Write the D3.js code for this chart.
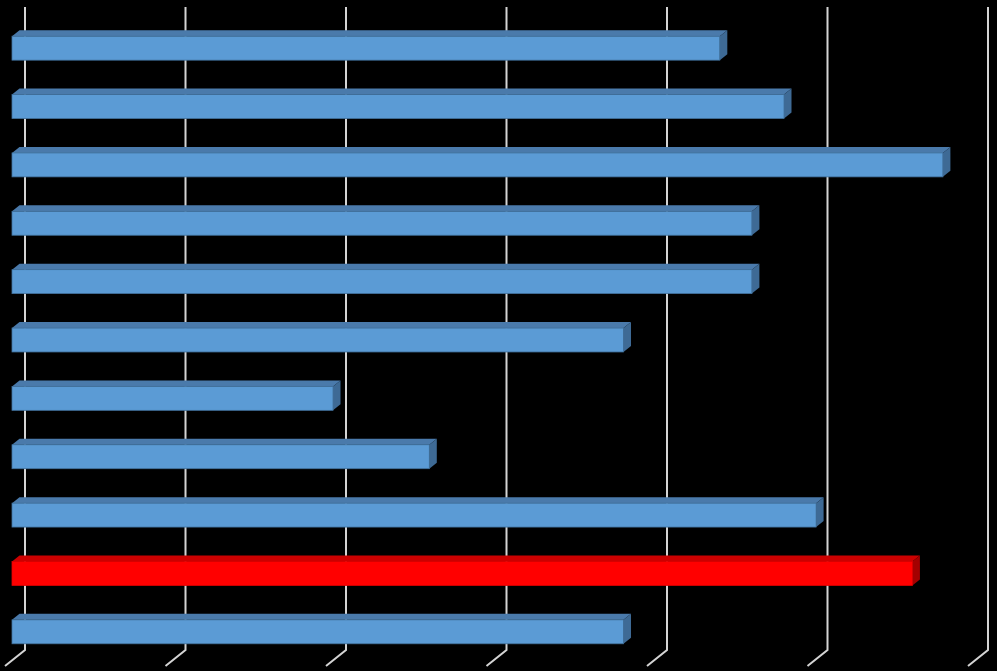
<!DOCTYPE html>
<html>
<head>
<meta charset="utf-8">
<script src="https://cdn.jsdelivr.net/npm/d3@7"></script>
<style>
  html, body { margin: 0; padding: 0; background: #000; }
  svg { display: block; }
</style>
</head>
<body>
<svg id="chart" width="997" height="671"></svg>
<script>
// Data (no labels are shown in the original)
const categories = ["C1","C2","C3","C4","C5","C6","C7","C8","C9","C10","C11"];
const values = [4.41, 4.81, 5.80, 4.61, 4.61, 3.81, 2.00, 2.60, 5.01, 5.61, 3.81];
const highlight = ["C10"];
const gridTicks = [0, 1, 2, 3, 4, 5, 6];

const svg = d3.select("#chart");
const W = 997, H = 671;
svg.append("rect").attr("width", W).attr("height", H).attr("fill", "#000");

// front-plane x scale for bars
const x = d3.scaleLinear().domain([0, 6]).range([12, 975]);
const y = d3.scaleBand().domain(categories).range([19, 661])
  .paddingInner(0.59).paddingOuter(0.295);

// oblique 3D offsets
const dx = 7.5, dy = -6;          // bar depth
const wallDx = 13;                 // back wall offset from bar front
const floorDx = -20, floorDy = 16; // floor diagonal
const gridTop = 7, gridBottom = 650;

// gridlines (back wall + floor)
const g = svg.append("g");
g.selectAll("path.grid").data(gridTicks).join("path")
  .attr("class", "grid")
  .attr("d", d => {
    const gx = x(d) + wallDx;
    return `M${gx},${gridTop} L${gx},${gridBottom} L${gx + floorDx},${gridBottom + floorDy}`;
  })
  .attr("fill", "none")
  .attr("stroke", "#d4d4d4")
  .attr("stroke-width", 2);

const colors = {
  blue: { front: "#5B9BD5", top: "#4A7AAB", side: "#3E6A95", edge: "#41719C" },
  red:  { front: "#FF0000", top: "#CC0000", side: "#A30000", edge: "#E00000" }
};

const data = categories.map((c, i) => ({ c, v: values[i], col: highlight.includes(c) ? colors.red : colors.blue }));

const bars = svg.append("g").selectAll("g.bar").data(data).join("g").attr("class", "bar");

// top face
bars.append("path")
  .attr("d", d => {
    const x0 = x(0), x1 = x(d.v), y0 = y(d.c);
    return `M${x0},${y0} L${x0 + dx},${y0 + dy} L${x1 + dx},${y0 + dy} L${x1},${y0} Z`;
  })
  .attr("fill", d => d.col.top);

// side face
bars.append("path")
  .attr("d", d => {
    const x1 = x(d.v), y0 = y(d.c), y1 = y0 + y.bandwidth();
    return `M${x1},${y0} L${x1 + dx},${y0 + dy} L${x1 + dx},${y1 + dy} L${x1},${y1} Z`;
  })
  .attr("fill", d => d.col.side);

// front face
bars.append("rect")
  .attr("x", x(0))
  .attr("y", d => y(d.c))
  .attr("width", d => x(d.v) - x(0))
  .attr("height", y.bandwidth())
  .attr("fill", d => d.col.front)
  .attr("stroke", d => d.col.edge)
  .attr("stroke-width", 0.8);
</script>
</body>
</html>
